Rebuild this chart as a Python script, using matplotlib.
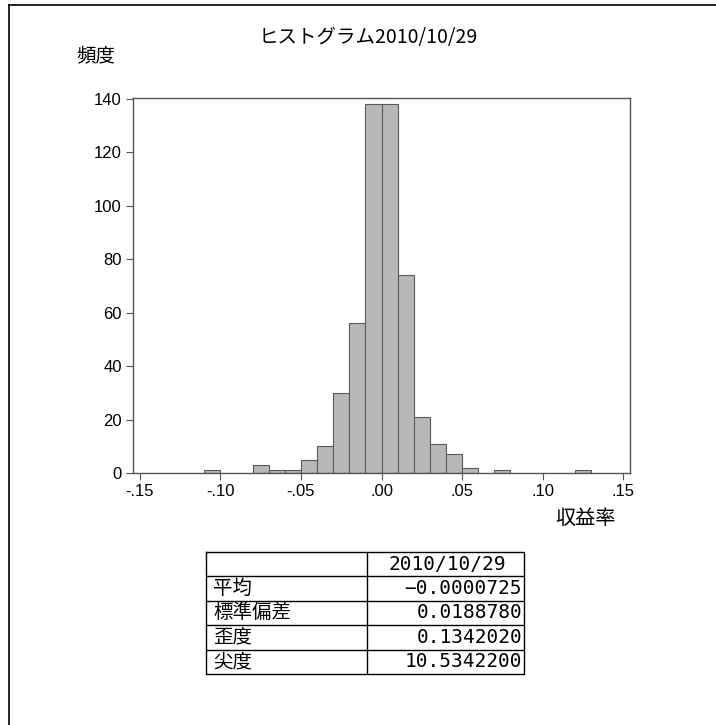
import numpy as np
import matplotlib
matplotlib.use('Agg')
import matplotlib.pyplot as plt
from matplotlib.lines import Line2D

plt.rcParams['font.family'] = ['Liberation Sans', 'Noto Sans CJK JP', 'DejaVu Sans']

W, H = 716, 725

# histogram data (bin left edge, width 0.01)
bin_left = [-0.11, -0.08, -0.07, -0.06, -0.05, -0.04, -0.03, -0.02, -0.01,
            0.00, 0.01, 0.02, 0.03, 0.04, 0.05, 0.07, 0.12]
counts   = [1, 3, 1, 1, 5, 10, 30, 56, 138,
            138, 74, 21, 11, 7, 2, 1, 1]
bin_width = 0.01

x_ticks  = [-0.15, -0.10, -0.05, 0.00, 0.05, 0.10, 0.15]
x_labels = ['-.15', '-.10', '-.05', '.00', '.05', '.10', '.15']
y_ticks  = [0, 20, 40, 60, 80, 100, 120, 140]

title_text = 'ヒストグラム2010/10/29'
stat_names  = ['平均', '標準偏差', '歪度', '尖度']
stat_values = ['-0.0000725', '0.0188780', '0.1342020', '10.5342200']
col_header  = '2010/10/29'


def px(x0, y0, x1, y1):
    # pixel box -> figure fraction [l, b, w, h]
    return [x0 / W, 1 - y1 / H, (x1 - x0) / W, (y1 - y0) / H]


fig = plt.figure(figsize=(W / 100, H / 100), dpi=100)
fig.patch.set_facecolor('white')

ax = fig.add_axes(px(133, 98, 630, 473))
ax.bar(bin_left, counts, width=bin_width, align='edge',
       color='#b8b8b8', edgecolor='#5a5a5a', linewidth=0.8)
ax.set_xlim(-0.1543, 0.1543)
ax.set_ylim(0, 140.3)
ax.set_xticks(x_ticks)
ax.set_xticklabels(x_labels)
ax.set_yticks(y_ticks)
ax.tick_params(direction='out', length=5, width=0.8, colors='#555555',
               labelsize=12, labelcolor='black', pad=3)
for s in ax.spines.values():
    s.set_color('#555555')
    s.set_linewidth(1.0)

jp = ['Noto Sans CJK JP', 'DejaVu Sans']
mono = ['DejaVu Sans Mono']
fig.text(96 / W, 1 - 57 / H, '頻度', family=jp, fontsize=14,
         ha='center', va='center')
fig.text(368 / W, 1 - 38 / H, title_text, family=jp, fontsize=14,
         ha='center', va='center')
fig.text(585 / W, 1 - 519 / H, '収益率', family=jp, fontsize=14.5,
         ha='center', va='center')

# statistics table
tx0, tx1, tdiv = 206, 524, 367
ty0, ty1 = 552, 674
tab = fig.add_axes(px(tx0, ty0, tx1, ty1))
tab.set_xlim(tx0, tx1)
tab.set_ylim(ty1, ty0)
tab.axis('off')
n_rows = len(stat_names) + 1
row_h = (ty1 - ty0) / n_rows
lw = 1.0
tab.plot([tx0, tx1, tx1, tx0, tx0], [ty0, ty0, ty1, ty1, ty0],
         color='black', lw=lw, clip_on=False)
tab.plot([tdiv, tdiv], [ty0, ty1], color='black', lw=lw)
for i in range(1, n_rows):
    tab.plot([tx0, tx1], [ty0 + i * row_h] * 2, color='black', lw=lw)
tab.text((tdiv + tx1) / 2 + 2, ty0 + row_h / 2, col_header, family=mono,
         fontsize=14, ha='center', va='center')
for i, (nm, val) in enumerate(zip(stat_names, stat_values)):
    yc = ty0 + (i + 1.5) * row_h
    tab.text(tx0 + 7, yc, nm, family=jp, fontsize=14, ha='left', va='center')
    tab.text(tx1 - 2, yc, val.replace('-', '−'), family=mono, fontsize=14,
             ha='right', va='center')

# outer frame (left and top only)
fig.add_artist(Line2D([9 / W, 9 / W], [0, 1 - 5 / H], color='black',
                      lw=1.2, transform=fig.transFigure))
fig.add_artist(Line2D([9 / W, 1], [1 - 5 / H, 1 - 5 / H], color='black',
                      lw=1.2, transform=fig.transFigure))

fig.savefig('out.png', dpi=100, facecolor='white')
